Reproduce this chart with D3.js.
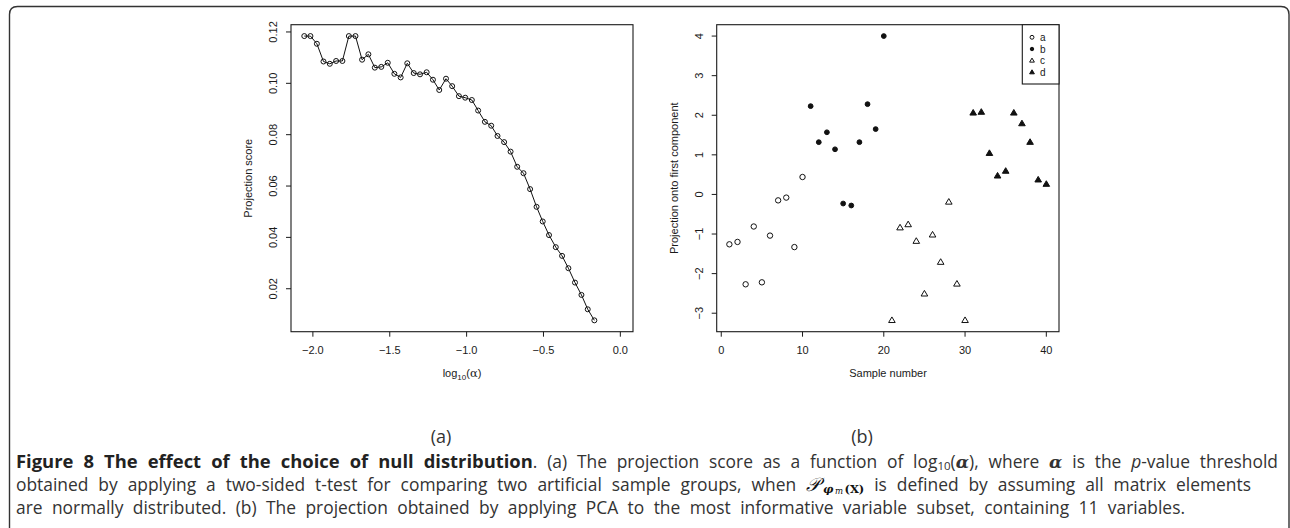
<!DOCTYPE html>
<html>
<head>
<meta charset="utf-8">
<script src="https://cdn.jsdelivr.net/npm/d3@7"></script>
<style>
  html, body { margin: 0; padding: 0; background: #fff; }
  svg { display: block; }
  .ax text { font-family: "Liberation Sans", Arial, sans-serif; fill: #1a1a1a; }
  .cap { font-family: "Open Sans", "Noto Sans", sans-serif; fill: #333; }
</style>
</head>
<body>
<svg id="fig" width="1290" height="528"></svg>
<script>
// ---------- Data: panel (a) ----------
const logAlpha = [
  -2.056, -2.016, -1.974, -1.931, -1.890, -1.849, -1.808, -1.766, -1.723, -1.680,
  -1.639, -1.597, -1.555, -1.513, -1.470, -1.429, -1.386, -1.344, -1.303, -1.260,
  -1.219, -1.178, -1.134, -1.094, -1.050, -1.009, -0.966, -0.925, -0.881, -0.840,
  -0.799, -0.756, -0.714, -0.671, -0.630, -0.587, -0.545, -0.505, -0.464, -0.420,
  -0.379, -0.338, -0.295, -0.253, -0.212, -0.169
];
const projScore = [
  0.1184, 0.1184, 0.1154, 0.1085, 0.1076, 0.1087, 0.1087, 0.1184, 0.1184, 0.1092,
  0.1113, 0.1061, 0.1064, 0.1080, 0.1037, 0.1023, 0.1078, 0.1040, 0.1035, 0.1043,
  0.1014, 0.0974, 0.1018, 0.0989, 0.0950, 0.0944, 0.0935, 0.0894, 0.0850, 0.0835,
  0.0795, 0.0771, 0.0734, 0.0675, 0.0650, 0.0588, 0.0519, 0.0462, 0.0409, 0.0362,
  0.0328, 0.0280, 0.0224, 0.0176, 0.0120, 0.0077
];
const aXTicks = [-2.0, -1.5, -1.0, -0.5, 0.0];
const aYTicks = [0.02, 0.04, 0.06, 0.08, 0.10, 0.12];

// ---------- Data: panel (b) ----------
const sampleNumber = d3.range(1, 41);
const projection = [
  -1.26, -1.20, -2.27, -0.81, -2.22, -1.04, -0.15, -0.08, -1.33, 0.44,
   2.23,  1.32,  1.57,  1.14, -0.23, -0.28,  1.32,  2.28,  1.65, 4.00,
  -3.18, -0.84, -0.76, -1.18, -2.51, -1.02, -1.71, -0.19, -2.26, -3.18,
   2.06,  2.08,  1.04,  0.47,  0.59,  2.06,  1.79,  1.32,  0.37, 0.26
];
const group = [
  "a","a","a","a","a","a","a","a","a","a",
  "b","b","b","b","b","b","b","b","b","b",
  "c","c","c","c","c","c","c","c","c","c",
  "d","d","d","d","d","d","d","d","d","d"
];
const groupNames = ["a", "b", "c", "d"];
const bXTicks = [0, 10, 20, 30, 40];
const bYTicks = [-3, -2, -1, 0, 1, 2, 3, 4];

// ---------- helpers ----------
const svg = d3.select("#fig");
function rpad(ext, f = 0.04) { const r = ext[1] - ext[0]; return [ext[0] - r * f, ext[1] + r * f]; }
const plotTop = 24.7, plotBottom = 331.7;
const fs = 11;

function frame(g, x0, x1) {
  g.append("rect").attr("x", x0).attr("y", plotTop).attr("width", x1 - x0).attr("height", plotBottom - plotTop)
    .attr("fill", "none").attr("stroke", "#1a1a1a").attr("stroke-width", 1.1);
}
function axes(g, xs, ys, xt, yt, xfmt, yfmt) {
  const ax = g.append("g").attr("class", "ax");
  ax.selectAll(".xt").data(xt).join("line")
    .attr("x1", d => xs(d)).attr("x2", d => xs(d)).attr("y1", plotBottom).attr("y2", plotBottom + 5)
    .attr("stroke", "#1a1a1a").attr("stroke-width", 1);
  ax.selectAll(".xl").data(xt).join("text")
    .attr("x", d => xs(d)).attr("y", 354).attr("text-anchor", "middle").attr("font-size", fs)
    .text(xfmt);
  const x0 = xs.range()[0];
  ax.selectAll(".yt").data(yt).join("line")
    .attr("x1", x0 - 5).attr("x2", x0).attr("y1", d => ys(d)).attr("y2", d => ys(d))
    .attr("stroke", "#1a1a1a").attr("stroke-width", 1);
  ax.selectAll(".yl").data(yt).join("text")
    .attr("transform", d => `translate(${x0 - 14},${ys(d)}) rotate(-90)`)
    .attr("text-anchor", "middle").attr("font-size", fs).text(yfmt);
  return ax;
}
const minus = s => s.replace("-", "\u2212");

// ---------- panel (a) ----------
const xa = d3.scaleLinear().domain(rpad([-2.06, 0])).range([291, 633]);
const ya = d3.scaleLinear().domain(rpad(d3.extent(projScore))).range([plotBottom, plotTop]);
const ga = svg.append("g");
frame(ga, 291, 633);
const axA = axes(ga, xa, ya, aXTicks, aYTicks, d => minus(d3.format(".1f")(d)), d => d3.format(".2f")(d));
const ptsA = logAlpha.map((x, i) => [x, projScore[i]]);
ga.append("path").datum(ptsA)
  .attr("d", d3.line().x(d => xa(d[0])).y(d => ya(d[1])))
  .attr("fill", "none").attr("stroke", "#111").attr("stroke-width", 1);
ga.selectAll(".pa").data(ptsA).join("circle")
  .attr("cx", d => xa(d[0])).attr("cy", d => ya(d[1])).attr("r", 2.5)
  .attr("fill", "none").attr("stroke", "#111").attr("stroke-width", 1);
const tA = axA.append("text").attr("x", 462).attr("y", 377).attr("text-anchor", "middle").attr("font-size", fs);
tA.append("tspan").text("log");
tA.append("tspan").attr("font-size", 8).attr("dy", 3).text("10");
tA.append("tspan").attr("dy", -3).text("(");
tA.append("tspan").attr("font-family", "DejaVu Serif, serif").attr("font-size", 11.5).text("\u03B1");
tA.append("tspan").text(")");
axA.append("text").attr("transform", `translate(252,${(plotTop + plotBottom) / 2}) rotate(-90)`)
  .attr("text-anchor", "middle").attr("font-size", fs).text("Projection score");

// ---------- panel (b) ----------
const xb = d3.scaleLinear().domain(rpad([1, 40])).range([716.7, 1059]);
const yb = d3.scaleLinear().domain(rpad(d3.extent(projection))).range([plotBottom, plotTop]);
const gb = svg.append("g");
frame(gb, 716.7, 1059);
const axB = axes(gb, xb, yb, bXTicks, bYTicks, d => String(d), d => minus(String(d)));
axB.append("text").attr("x", 888).attr("y", 377).attr("text-anchor", "middle").attr("font-size", fs).text("Sample number");
axB.append("text").attr("transform", `translate(678,${(plotTop + plotBottom) / 2}) rotate(-90)`)
  .attr("text-anchor", "middle").attr("font-size", fs).text("Projection onto first component");

function marker(sel, g, scale) {
  if (g === "a" || g === "b") {
    sel.append("circle").attr("r", (g === "a" ? 2.7 : 2.4) * scale)
      .attr("fill", g === "b" ? "#111" : "none").attr("stroke", "#111").attr("stroke-width", 1);
  } else {
    const w = 6.6 * scale, h = 5.6 * scale;
    sel.append("path").attr("d", `M0,${-h / 2 - 0.6}L${w / 2},${h / 2 - 0.6}L${-w / 2},${h / 2 - 0.6}Z`)
      .attr("fill", g === "d" ? "#111" : "none").attr("stroke", "#111").attr("stroke-width", 1)
      .attr("stroke-linejoin", "miter");
  }
}
sampleNumber.forEach((s, i) => {
  const m = gb.append("g").attr("transform", `translate(${xb(s)},${yb(projection[i])})`);
  marker(m, group[i], 1);
});

const lg = gb.append("g").attr("class", "ax");
lg.append("rect").attr("x", 1022.3).attr("y", plotTop).attr("width", 1059 - 1022.3).attr("height", 84 - plotTop)
  .attr("fill", "#fff").attr("stroke", "#1a1a1a").attr("stroke-width", 1.1);
groupNames.forEach((g, i) => {
  const yy = 37.3 + i * 11.7;
  const m = lg.append("g").attr("transform", `translate(1032,${yy})`);
  marker(m, g, 0.72);
  lg.append("text").attr("x", 1040).attr("y", yy + 3.6).attr("font-size", 10).text(g);
});

// ---------- outer frame ----------
svg.append("path")
  .attr("d", "M9.5,540 L9.5,14.5 Q9.5,6.5 17.5,6.5 L1281,6.5 Q1289,6.5 1289,14.5 L1289,540")
  .attr("fill", "none").attr("stroke", "#333").attr("stroke-width", 1.4);

// ---------- captions ----------
svg.append("text").attr("class", "cap").attr("x", 441).attr("y", 443).attr("text-anchor", "middle").attr("font-size", 18).text("(a)");
svg.append("text").attr("class", "cap").attr("x", 862).attr("y", 443).attr("text-anchor", "middle").attr("font-size", 18).text("(b)");

const capFs = 17.4;
const capX = 16;
function fitLine(t, right) {
  const node = t.node();
  const w = node.getComputedTextLength();
  const nSpaces = (node.textContent.match(/ /g) || []).length;
  if (nSpaces > 0) t.attr("word-spacing", ((right - capX) - w) / nSpaces);
}

const l1 = svg.append("text").attr("class", "cap").attr("x", capX).attr("y", 468).attr("font-size", capFs);
l1.append("tspan").attr("font-weight", "bold").attr("font-size", 18.4).attr("fill", "#222").text("Figure 8 The effect of the choice of null distribution");
l1.append("tspan").text(". (a) The projection score as a function of log");
l1.append("tspan").attr("font-size", 11.5).attr("dy", 1.8).text("10");
l1.append("tspan").attr("dy", -1.8).text("(");
l1.append("tspan").attr("font-family", "DejaVu Serif, serif").attr("font-style", "italic").attr("font-weight", "bold").text("\u03B1");
l1.append("tspan").text("), where ");
l1.append("tspan").attr("font-family", "DejaVu Serif, serif").attr("font-style", "italic").attr("font-weight", "bold").text("\u03B1");
l1.append("tspan").text(" is the ");
l1.append("tspan").attr("font-style", "italic").text("p");
l1.append("tspan").text("-value threshold");
fitLine(l1, 1278);

const l2 = svg.append("text").attr("class", "cap").attr("x", capX).attr("y", 490.5).attr("font-size", capFs);
l2.append("tspan").text("obtained by applying a two-sided t-test for comparing two artificial sample groups, when ");
l2.append("tspan").attr("font-family", "DejaVu Serif, serif").attr("font-style", "italic").attr("font-size", 19).attr("fill", "#111").text("\uD835\uDCAB");
l2.append("tspan").attr("font-family", "DejaVu Serif, serif").attr("font-style", "italic").attr("font-weight", "bold").attr("font-size", 11.5).attr("dx", 3).attr("dy", 2).attr("fill", "#111").text("\u03C6");
l2.append("tspan").attr("font-family", "DejaVu Serif, serif").attr("font-style", "italic").attr("font-size", 8.5).attr("dx", 1.5).attr("dy", 1).attr("fill", "#111").text("m");
l2.append("tspan").attr("font-family", "DejaVu Serif, serif").attr("font-weight", "bold").attr("font-size", 11.5).attr("dx", 1.5).attr("dy", -1).attr("fill", "#111").text("(X)");
l2.append("tspan").attr("dy", -2).text(" is defined by assuming all matrix elements");
fitLine(l2, 1245);

const l3 = svg.append("text").attr("class", "cap").attr("x", capX).attr("y", 514).attr("font-size", capFs);
l3.text("are normally distributed. (b) The projection obtained by applying PCA to the most informative variable subset, containing 11 variables.");
fitLine(l3, 1185);
</script>
</body>
</html>
